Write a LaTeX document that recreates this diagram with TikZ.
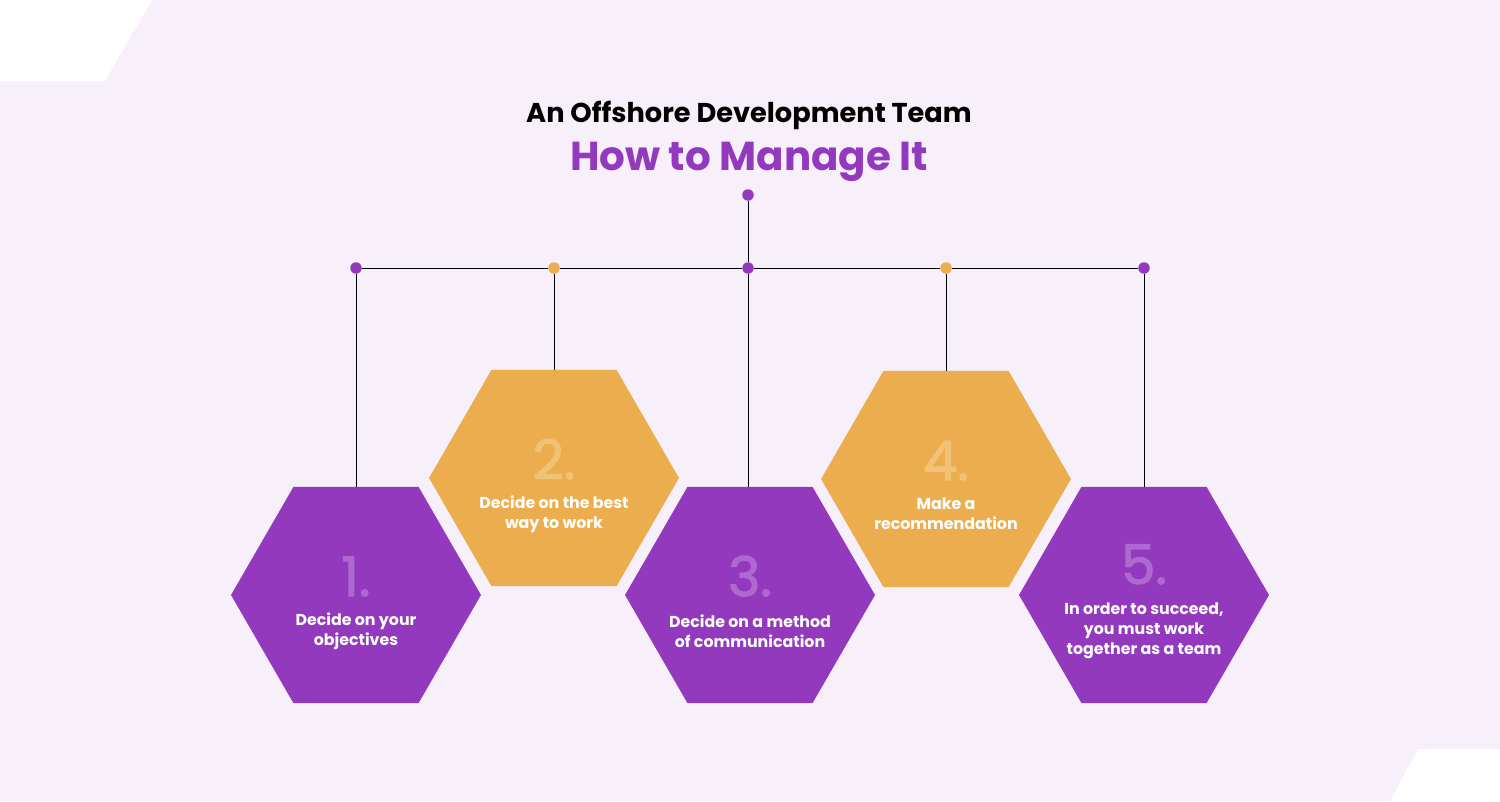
\documentclass[tikz,border=0pt]{standalone}
\usepackage{fontspec}
\setmainfont{Poppins}
\newfontfamily\numfont[BoldFont=Poppins, BoldFeatures={FakeBold=2.2}]{Poppins}
\usetikzlibrary{shapes.geometric}
\definecolor{bgcol}{HTML}{F7EFF9}
\definecolor{hexpurple}{HTML}{9339BE}
\definecolor{hexorange}{HTML}{ECAD4E}
\definecolor{numpurple}{HTML}{AE68D0}
\definecolor{numorange}{HTML}{F0C275}
\begin{document}
\begin{tikzpicture}[x=0.02cm, y=-0.02cm,
    hex/.style={regular polygon, regular polygon sides=6, minimum size=5cm, inner sep=0pt, outer sep=0pt},
    purplehex/.style={hex, fill=hexpurple},
    orangehex/.style={hex, fill=hexorange},
    dot/.style={circle, inner sep=0pt, minimum size=0.23cm},
    num/.style={anchor=base, font=\numfont\bfseries\fontsize{31}{31}\selectfont},
    caption/.style={text=white, align=center, font=\bfseries\fontsize{9}{11.3}\selectfont},
    link/.style={line width=0.55pt, black}
]
\useasboundingbox (0,0) rectangle (1500,801);
\fill[bgcol] (0,0) rectangle (1500,801);
\fill[white] (0,0) -- (152,0) -- (105,81) -- (0,81) -- cycle;
\fill[white] (1418,749) -- (1500,749) -- (1500,801) -- (1390,801) -- cycle;

% titles
\node[font=\bfseries\fontsize{15.5}{16}\selectfont] (title) at (749,115) {An Offshore Development Team};
\node[text=hexpurple, font=\bfseries\fontsize{23}{24}\selectfont] (subtitle) at (749,162) {How to Manage It};

% hexagons
\node[purplehex] (objectives) at (356,595) {};
\node[orangehex] (bestway) at (554,478) {};
\node[purplehex] (method) at (750,595) {};
\node[orangehex] (recommend) at (946,479) {};
\node[purplehex] (teamwork) at (1144,595) {};

\node[num, text=numpurple] at (356,596) {1.};
\node[num, text=numorange] at (554,479) {2.};
\node[num, text=numpurple] at (750,596) {3.};
\node[num, text=numorange] at (946,480) {4.};
\node[num, text=numpurple] at (1144,584) {5.};

\node[caption] at (356,631) {Decide on your\\objectives};
\node[caption] at (554,514) {Decide on the best\\way to work};
\node[caption] at (750,631) {Decide on a method\\of communication};
\node[caption] at (946,514) {Make a\\recommendation};
\node[caption] at (1144,631) {In order to succeed,\\you must work\\together as a team};

% dots
\node[dot, fill=hexpurple] (root) at (748,195) {};
\node[dot, fill=hexpurple] (d1) at (356,268) {};
\node[dot, fill=hexorange] (d2) at (554,268) {};
\node[dot, fill=hexpurple] (d3) at (748,268) {};
\node[dot, fill=hexorange] (d4) at (946,268) {};
\node[dot, fill=hexpurple] (d5) at (1144,268) {};

% connectors
\draw[link] (root) -- (d3);
\draw[link] (d1) -- (d2) -- (d3) -- (d4) -- (d5);
\draw[link] (d1) -- (objectives.north -| d1);
\draw[link] (d2) -- (bestway.north -| d2);
\draw[link] (d3) -- (method.north -| d3);
\draw[link] (d4) -- (recommend.north -| d4);
\draw[link] (d5) -- (teamwork.north -| d5);
\end{tikzpicture}
\end{document}
